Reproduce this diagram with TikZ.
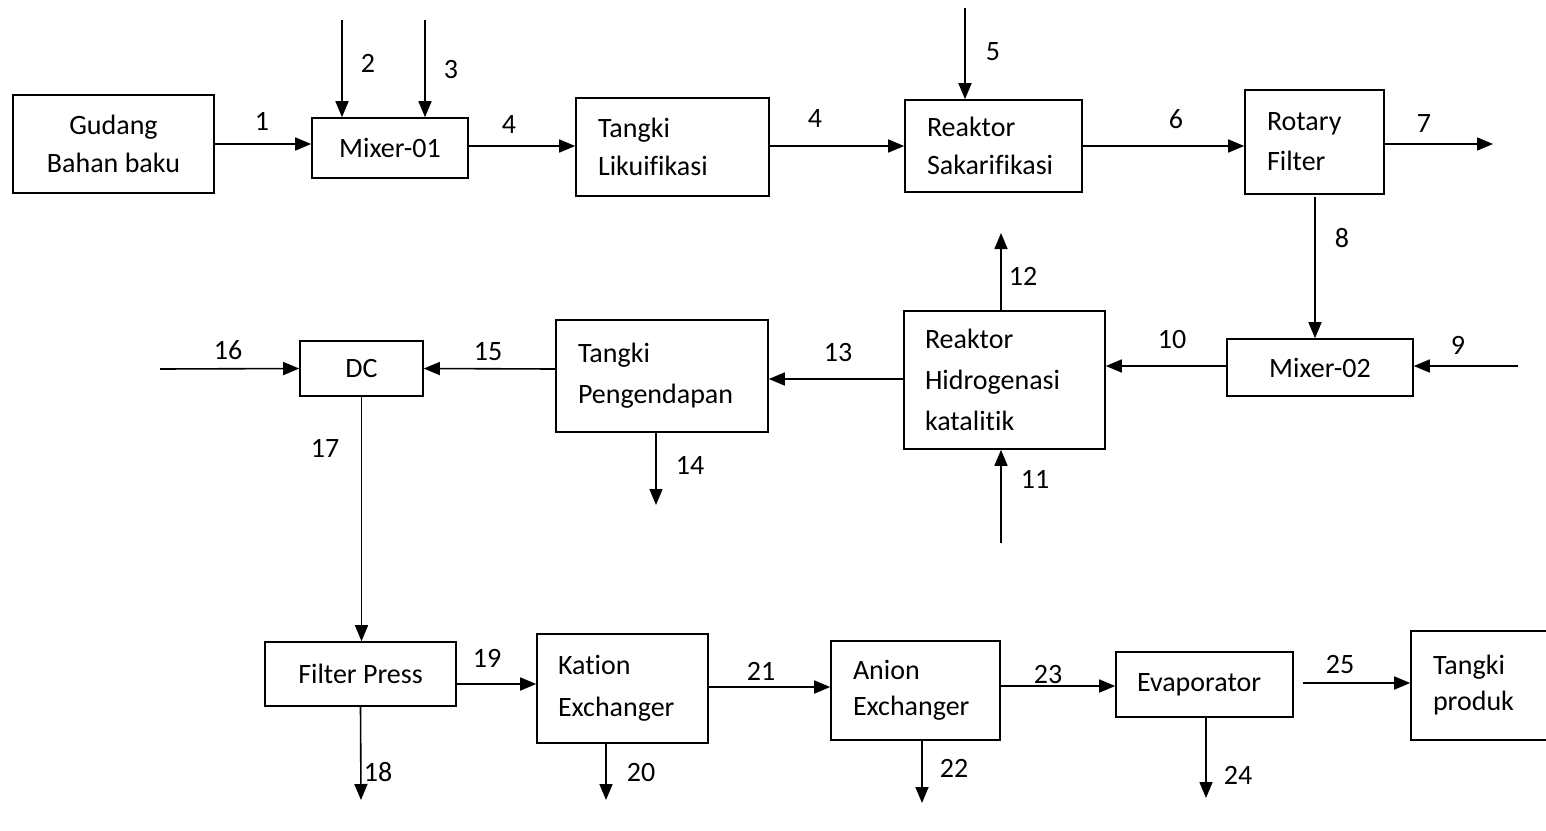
\documentclass[tikz,border=0pt]{standalone}
\usepackage{fontspec}
\setmainfont[Ligatures=NoCommon]{Carlito}
\usetikzlibrary{arrows.meta}
\begin{document}
\begin{tikzpicture}[x=1pt,y=-1pt,
 box/.style={draw,line width=1.6pt,font=\fontsize{28}{38}\selectfont,inner ysep=0pt},
 lbox/.style={box,align=left,inner xsep=22pt},
 lbl/.style={font=\fontsize{28}{34}\selectfont,inner sep=0pt},
 flow/.style={line width=1.6pt,-{Triangle[length=16pt,width=13pt]}}]
\useasboundingbox (0,0) rectangle (1546,830);

% boxes
\node[box,align=center,minimum width=201,minimum height=98] (gudang) at (113.5,144) {Gudang\\Bahan baku};
\node[box,minimum width=156,minimum height=60] (mix1) at (390,148) {Mixer-01};
\node[lbox,text width=149,minimum height=98] (likui) at (672.5,147) {Tangki\\Likuifikasi};
\node[lbox,text width=133,minimum height=92] (sakar) at (993.5,146) {Reaktor\\Sakarifikasi};
\node[lbox,text width=95,minimum height=104,font=\fontsize{28}{40}\selectfont] (rotary) at (1314.5,142) {Rotary\\Filter};
\node[box,minimum width=186,minimum height=57] (mix2) at (1320,367.5) {Mixer-02};
\node[lbox,inner xsep=21pt,text width=159,minimum height=138,font=\fontsize{28}{41}\selectfont] (hidro) at (1004.5,380) {Reaktor\\Hidrogenasi\\katalitik};
\node[lbox,text width=168,minimum height=112,font=\fontsize{28}{41}\selectfont] (pengend) at (662,376) {Tangki\\Pengendapan};
\node[box,minimum width=123,minimum height=55] (dc) at (361.5,368.5) {DC};
\node[box,minimum width=191,minimum height=64] (fpress) at (360.5,674) {Filter Press};
\node[lbox,inner xsep=21pt,text width=129,minimum height=109,font=\fontsize{28}{42}\selectfont] (kation) at (622.5,688.5) {Kation\\Exchanger};
\node[lbox,text width=125,minimum height=99,font=\fontsize{28}{36}\selectfont] (anion) at (915.5,690.5) {Anion\\Exchanger};
\node[lbox,inner xsep=21pt,text width=135,minimum height=65] (evap) at (1204.5,684.5) {Evaporator};
\node[lbox,text width=95,minimum height=109,font=\fontsize{28}{36}\selectfont] (produk) at (1480.5,685.5) {Tangki\\produk};

% free ends
\coordinate (s2) at (342,20);
\coordinate (s3) at (425,20);
\coordinate (s5) at (965,8);
\coordinate (e7) at (1493,144);
\coordinate (s9) at (1518,366);
\coordinate (s11) at (1001,543);
\coordinate (e12) at (1001,233);
\coordinate (e14) at (656,505);
\coordinate (s16) at (160,369);
\coordinate (e18) at (361,800);
\coordinate (e20) at (606,800);
\coordinate (e22) at (922,803);
\coordinate (e24) at (1206,798);

% connectors
\draw[flow] (gudang.east |- 0,144) -- (mix1.west |- 0,144);
\draw[flow] (s2) -- (s2 |- mix1.north);
\draw[flow] (s3) -- (s3 |- mix1.north);
\draw[flow] (mix1.east |- 0,146) -- (likui.west |- 0,146);
\draw[flow] (likui.east |- 0,146) -- (sakar.west |- 0,146);
\draw[flow] (s5) -- (s5 |- sakar.north);
\draw[flow] (sakar.east |- 0,146) -- (rotary.west |- 0,146);
\draw[flow] (rotary.east |- 0,144) -- (e7);
\draw[flow] (1315,197) -- (1315,0 |- mix2.north);
\draw[flow] (s9) -- (mix2.east |- s9);
\draw[flow] (mix2.west |- 0,366) -- (hidro.east |- 0,366);
\draw[flow] (s11) -- (s11 |- hidro.south);
\draw[flow] (e12 |- hidro.north) -- (e12);
\draw[flow] (hidro.west |- 0,379) -- (pengend.east |- 0,379);
\draw[flow] (e14 |- pengend.south) -- (e14);
\draw[flow] (pengend.west |- 0,369) -- (dc.west -| dc.east);
\draw[flow] (s16) -- (dc.west);
\draw[flow] (dc.south) -- (dc.south |- fpress.north);
\draw[flow] (fpress.south) -- (e18);
\draw[flow] (fpress.east |- 0,684) -- (kation.west |- 0,684);
\draw[flow] (e20 |- kation.south) -- (e20);
\draw[flow] (kation.east |- 0,687) -- (anion.west |- 0,687);
\draw[flow] (e22 |- anion.south) -- (e22);
\draw[flow] (anion.east |- 0,686) -- (evap.west |- 0,686);
\draw[flow] (e24 |- evap.south) -- (e24);
\draw[flow] (1303,683) -- (produk.west |- 0,683);

% labels
\node[lbl] (l1) at (262,121) {1};
\node[lbl] (l2) at (368,63) {2};
\node[lbl] (l3) at (451,70) {3};
\node[lbl] (l4a) at (509,125) {4};
\node[lbl] (l4b) at (815,119) {4};
\node[lbl] (l5) at (993,52) {5};
\node[lbl] (l6) at (1176,119) {6};
\node[lbl] (l7) at (1424,124) {7};
\node[lbl] (l8) at (1342,238) {8};
\node[lbl] (l9) at (1458,345) {9};
\node[lbl] (l10) at (1172,340) {10};
\node[lbl] (l11) at (1035,479) {11};
\node[lbl] (l12) at (1023,276) {12};
\node[lbl] (l13) at (838,353) {13};
\node[lbl] (l14) at (690,465) {14};
\node[lbl] (l15) at (488,352) {15};
\node[lbl] (l16) at (228,350) {16};
\node[lbl] (l17) at (325,448) {17};
\node[lbl] (l18) at (378,772) {18};
\node[lbl] (l19) at (487,658) {19};
\node[lbl] (l20) at (641,772) {20};
\node[lbl] (l21) at (761,671) {21};
\node[lbl] (l22) at (954,768) {22};
\node[lbl] (l23) at (1048,674) {23};
\node[lbl] (l24) at (1238,775) {24};
\node[lbl] (l25) at (1340,664) {25};
\end{tikzpicture}
\end{document}
